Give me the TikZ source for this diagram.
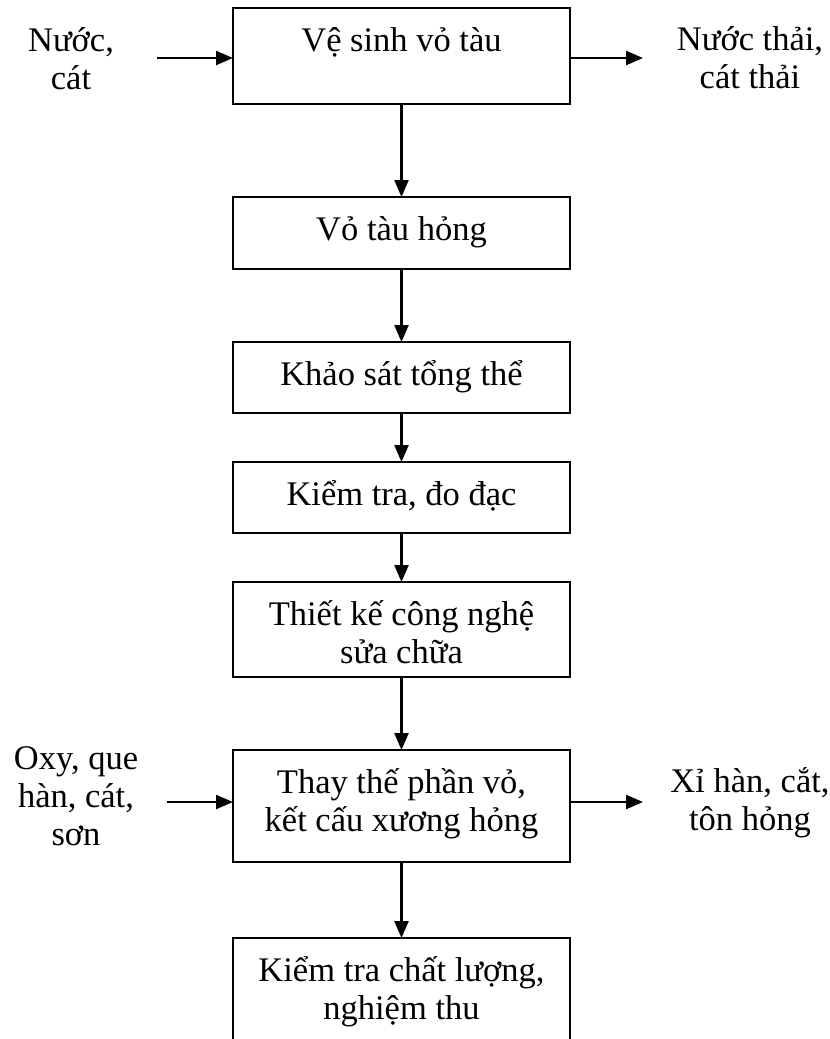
\documentclass[tikz,border=0pt]{standalone}
\usepackage{fontspec}
\setmainfont{Liberation Serif}
\usetikzlibrary{arrows.meta}
% tall strut so the first baseline sits a fixed distance below a node's top
\newcommand{\lnstrut}{\rule{0pt}{34pt}}
% keep every line on an even 38pt pitch, accents or not
\setlength{\lineskiplimit}{-100pt}
\begin{document}
\begin{tikzpicture}[x=1pt,y=-1pt,
  stepbox/.style={draw,line width=2.2pt,minimum width=337pt,inner sep=0pt,outer sep=0pt},
  txt/.style={inner sep=0pt,outer sep=0pt,align=center,anchor=north,
    font=\fontsize{34.5}{38}\selectfont},
  flow/.style={line width=2.3pt,-{Triangle[length=17pt,width=14pt]}}]
\useasboundingbox (0,0) rectangle (830,1039);

% process boxes
\node[stepbox,minimum height=96pt]  (b1) at (401.5,56)    {};
\node[stepbox,minimum height=72pt]  (b2) at (401.5,233)   {};
\node[stepbox,minimum height=71pt]  (b3) at (401.5,377.5) {};
\node[stepbox,minimum height=71pt]  (b4) at (401.5,497.5) {};
\node[stepbox,minimum height=95pt]  (b5) at (401.5,629.5) {};
\node[stepbox,minimum height=112pt] (b6) at (401.5,806)   {};
\node[stepbox,minimum height=112pt] (b7) at (401.5,994)   {};

% box texts, top aligned
\node[txt] (t1) at ([yshift=-9pt]b1.north) {\lnstrut Vệ sinh vỏ tàu};
\node[txt] (t2) at ([yshift=-9pt]b2.north) {\lnstrut Vỏ tàu hỏng};
\node[txt] (t3) at ([yshift=-9pt]b3.north) {\lnstrut Khảo sát tổng thể};
\node[txt] (t4) at ([yshift=-9pt]b4.north) {\lnstrut Kiểm tra, đo đạc};
\node[txt] (t5) at ([yshift=-9pt]b5.north) {\lnstrut Thiết kế công nghệ\\sửa chữa};
\node[txt] (t6) at ([yshift=-9pt]b6.north) {\lnstrut Thay thế phần vỏ,\\kết cấu xương hỏng};
\node[txt] (t7) at ([yshift=-9pt]b7.north) {\lnstrut Kiểm tra chất lượng,\\nghiệm thu};

% inputs and outputs
\node[txt] (l1) at (71,17)  {\lnstrut Nước,\\cát};
\node[txt] (r1) at (750,16) {\lnstrut Nước thải,\\cát thải};
\node[txt] (l6) at (76,735) {\lnstrut Oxy, que\\hàn, cát,\\sơn};
\node[txt] (r6) at (750,758) {\lnstrut Xỉ hàn, cắt,\\tôn hỏng};

\coordinate (in1)  at (157,58);
\coordinate (out1) at (643,58);
\coordinate (in6)  at (167,802);
\coordinate (out6) at (643,802);

\draw[flow] (in1) -- (in1 -| b1.west);
\draw[flow] (b1.east |- out1) -- (out1);
\draw[flow] (in6) -- (in6 -| b6.west);
\draw[flow] (b6.east |- out6) -- (out6);

% main flow
\draw[flow] (b1) -- (b2);
\draw[flow] (b2) -- (b3);
\draw[flow] (b3) -- (b4);
\draw[flow] (b4) -- (b5);
\draw[flow] (b5) -- (b6);
\draw[flow] (b6) -- (b7);
\end{tikzpicture}
\end{document}
